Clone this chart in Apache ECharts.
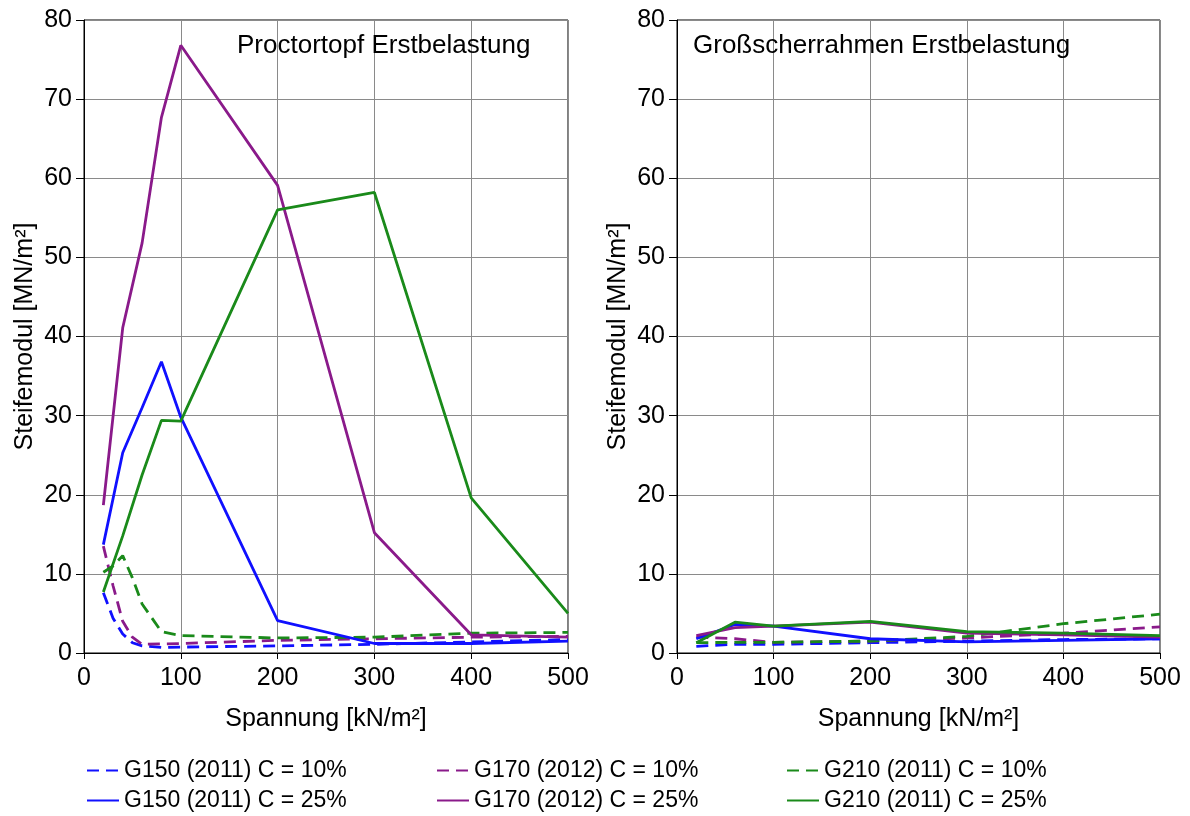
<!DOCTYPE html>
<html>
  <head>
    <meta charset="UTF-8" />
    <title>Steifemodul</title>
    <script src="https://cdn.jsdelivr.net/npm/echarts@6.0.0/dist/echarts.min.js"></script>
    <style>
      body { margin: 0; background: #fff; }
    </style>
  </head>
  <body>
    <div id="chart" style="width: 1190px; height: 816px"></div>
  </body>
  <script>
// ---- data ----
// left panel: Proctortopf
let xLeftDashed = [20, 30, 40, 50, 60, 80, 100, 200, 300, 400, 500];
let xLeftSolid = [20, 40, 60, 80, 100, 200, 300, 400, 500];

let g150_10_left = [7.6, 4.4, 2.4, 1.3, 0.9, 0.7, 0.75, 0.9, 1.1, 1.4, 1.7];
let g170_10_left = [13.5, 8.5, 4.0, 2.0, 1.1, 1.15, 1.2, 1.6, 1.8, 2.0, 2.1];
let g210_10_left = [10.2, 11.0, 12.3, 9.5, 6.2, 2.7, 2.2, 1.9, 2.0, 2.5, 2.6];

let g150_25_left = [13.7, 25.3, 31.0, 36.8, 29.8, 4.1, 1.2, 1.2, 1.5];
let g170_25_left = [18.7, 41.1, 51.8, 67.7, 76.8, 59.1, 15.2, 2.3, 2.0];
let g210_25_left = [7.7, 14.8, 22.5, 29.4, 29.3, 56.0, 58.2, 19.6, 5.0];

// right panel: Grossscherrahmen
let xRight = [20, 60, 100, 200, 300, 400, 500];

let g150_10_right = [0.85, 1.1, 1.1, 1.3, 1.5, 1.7, 1.8];
let g170_10_right = [2.0, 1.8, 1.35, 1.5, 1.9, 2.5, 3.3];
let g210_10_right = [1.3, 1.35, 1.35, 1.5, 2.1, 3.7, 4.9];

let g150_25_right = [1.8, 3.6, 3.4, 1.8, 1.4, 1.6, 1.8];
let g170_25_right = [2.2, 3.2, 3.4, 3.9, 2.5, 2.3, 2.0];
let g210_25_right = [1.3, 3.9, 3.4, 4.0, 2.7, 2.5, 2.2];

let xTicks = [0, 100, 200, 300, 400, 500];
let yTicks = [0, 10, 20, 30, 40, 50, 60, 70, 80];

let names = [
  'G150 (2011) C = 10%', 'G170 (2012) C = 10%', 'G210 (2011) C = 10%',
  'G150 (2011) C = 25%', 'G170 (2012) C = 25%', 'G210 (2011) C = 25%'
];
let colors = ['#1010ff', '#8a1a8a', '#1a8a1a'];

// ---- helpers ----
const font = "'Liberation Sans', Arial, sans-serif";

function pairs(xs, ys) {
  return xs.map((x, i) => [x, ys[i]]);
}

function line(name, color, dashed, idx, data) {
  return {
    name: name,
    type: 'line',
    xAxisIndex: idx,
    yAxisIndex: idx,
    data: data,
    symbol: 'none',
    smooth: false,
    z: dashed ? 3 : 4,
    lineStyle: { color: color, width: 2.8, type: dashed ? [12, 7] : 'solid' },
    itemStyle: { color: color }
  };
}

function xAxisFor(idx) {
  return {
    type: 'value', gridIndex: idx, min: 0, max: 500, interval: 100,
    name: 'Spannung [kN/m²]', nameLocation: 'middle', nameGap: 54,
    nameTextStyle: { fontSize: 25, color: '#000', fontFamily: font },
    axisLine: { show: true, onZero: false, lineStyle: { color: '#000', width: 1 } },
    axisTick: { show: true, inside: false, length: 6, lineStyle: { color: '#000' } },
    axisLabel: { fontSize: 25, color: '#000', fontFamily: font, margin: 13,
      formatter: v => xTicks.includes(v) ? String(v) : '' },
    splitLine: { show: true, lineStyle: { color: '#8a8a8a', width: 1 } }
  };
}

function yAxisFor(idx) {
  return {
    type: 'value', gridIndex: idx, min: 0, max: 80, interval: 10,
    name: 'Steifemodul [MN/m²]', nameLocation: 'middle', nameGap: 46, nameRotate: 90,
    nameTextStyle: { fontSize: 25, color: '#000', fontFamily: font },
    axisLine: { show: true, lineStyle: { color: '#000', width: 1 } },
    axisTick: { show: true, inside: false, length: 8, lineStyle: { color: '#000' } },
    axisLabel: { fontSize: 25, color: '#000', fontFamily: font, margin: 12,
      formatter: v => yTicks.includes(v) ? String(v) : '' },
    splitLine: { show: true, lineStyle: { color: '#8a8a8a', width: 1 } }
  };
}

let legendLeft = [86, 436, 786];
let legendTop = [759, 789];
let legends = names.map((n, i) => ({
  data: [n],
  left: legendLeft[i % 3],
  top: legendTop[Math.floor(i / 3)],
  padding: 0,
  itemWidth: 32,
  itemHeight: 14,
  itemGap: 4,
  itemStyle: { opacity: 0 },
  textStyle: { fontSize: 23, color: '#000', fontFamily: font }
}));

let series = [
  line(names[0], colors[0], true, 0, pairs(xLeftDashed, g150_10_left)),
  line(names[1], colors[1], true, 0, pairs(xLeftDashed, g170_10_left)),
  line(names[2], colors[2], true, 0, pairs(xLeftDashed, g210_10_left)),
  line(names[3], colors[0], false, 0, pairs(xLeftSolid, g150_25_left)),
  line(names[4], colors[1], false, 0, pairs(xLeftSolid, g170_25_left)),
  line(names[5], colors[2], false, 0, pairs(xLeftSolid, g210_25_left)),
  line(names[0], colors[0], true, 1, pairs(xRight, g150_10_right)),
  line(names[1], colors[1], true, 1, pairs(xRight, g170_10_right)),
  line(names[2], colors[2], true, 1, pairs(xRight, g210_10_right)),
  line(names[3], colors[0], false, 1, pairs(xRight, g150_25_right)),
  line(names[4], colors[1], false, 1, pairs(xRight, g170_25_right)),
  line(names[5], colors[2], false, 1, pairs(xRight, g210_25_right))
];

let myChart = echarts.init(document.getElementById('chart'));
myChart.setOption({
  animation: false,
  backgroundColor: '#fff',
  textStyle: { fontFamily: font },
  title: [
    { text: 'Proctortopf Erstbelastung', left: 237, top: 33, padding: 0,
      textStyle: { fontSize: 26, fontWeight: 'normal', color: '#000', fontFamily: font } },
    { text: 'Großscherrahmen Erstbelastung', left: 693, top: 33, padding: 0,
      textStyle: { fontSize: 26, fontWeight: 'normal', color: '#000', fontFamily: font } }
  ],
  legend: legends,
  grid: [
    { left: 84, top: 20, width: 484, height: 633, show: true, borderColor: '#000', borderWidth: 1 },
    { left: 677, top: 20, width: 483, height: 633, show: true, borderColor: '#000', borderWidth: 1 }
  ],
  xAxis: [xAxisFor(0), xAxisFor(1)],
  yAxis: [yAxisFor(0), yAxisFor(1)],
  series: series
});
  </script>
</html>
